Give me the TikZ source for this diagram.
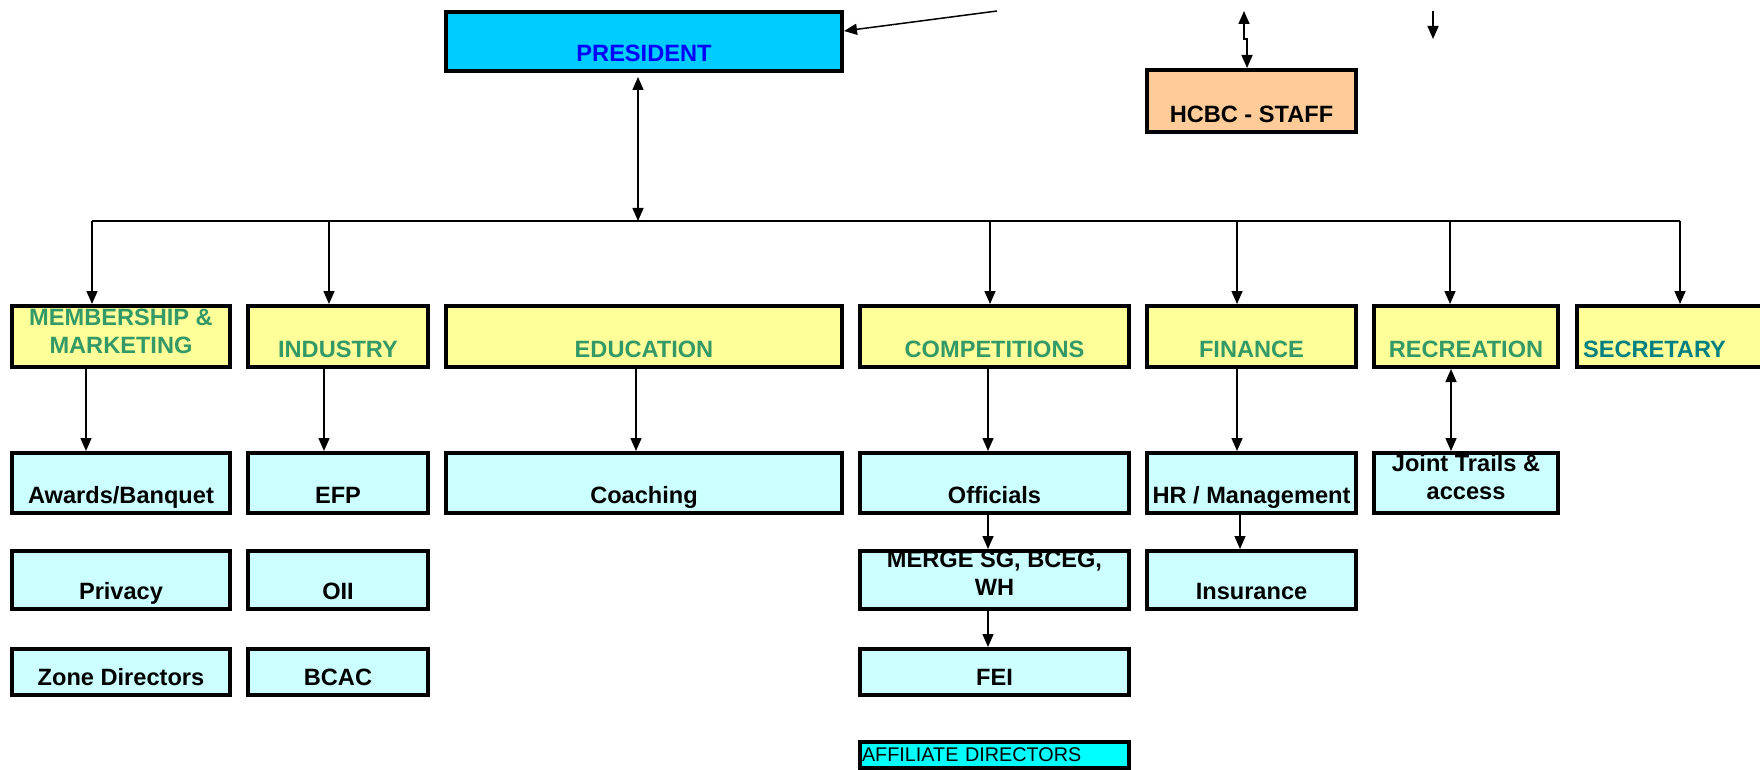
\documentclass[tikz,border=0pt]{standalone}
\usepackage{fontspec}
\setmainfont{Liberation Sans}
\usetikzlibrary{arrows.meta}
\definecolor{presfill}{RGB}{0,204,255}
\definecolor{presblue}{RGB}{0,0,255}
\definecolor{hdyellow}{RGB}{255,255,153}
\definecolor{hdgreen}{RGB}{51,153,102}
\definecolor{secteal}{RGB}{0,128,128}
\definecolor{subcyan}{RGB}{204,255,255}
\definecolor{staffpeach}{RGB}{255,204,153}
\definecolor{affcyan}{RGB}{0,255,255}

\begin{document}
\begin{tikzpicture}[x=0.5pt, y=-0.5pt,
  box/.style={draw, line width=2pt, inner sep=0pt, align=center, text depth=0pt, font=\fontsize{11.8}{14}\selectfont\bfseries},
  head/.style={box, fill=hdyellow, text=hdgreen, minimum height=30.5pt, text height=21pt},
  subA/.style={box, fill=subcyan, minimum height=30pt, text height=20.5pt},
  subB/.style={box, fill=subcyan, minimum height=29pt, text height=19.5pt},
  subC/.style={box, fill=subcyan, minimum height=23pt, text height=13.5pt},
  twoline/.style={text height=#1},
  arr/.style={-{Triangle[length=6.5pt,width=5.5pt]}, line width=0.75pt},
  dbl/.style={{Triangle[length=6.5pt,width=5.5pt]}-{Triangle[length=6.5pt,width=5.5pt]}, line width=0.75pt}
]
\useasboundingbox (0,0) rectangle (1760,770);

% top
\node[box, fill=presfill, text=presblue, minimum width=198pt, minimum height=29.5pt, text height=20pt] (pres) at (644,41.5) {PRESIDENT};
\node[box, fill=staffpeach, minimum width=104.5pt, minimum height=31pt, text height=21.5pt] (staff) at (1251.5,101) {HCBC - STAFF};

% committees
\node[head, twoline=16.5pt, minimum width=109pt] (mem) at (121,336.5) {MEMBERSHIP \&\\MARKETING};
\node[head, minimum width=90pt] (ind) at (338,336.5) {INDUSTRY};
\node[head, minimum width=198pt] (edu) at (644,336.5) {EDUCATION};
\node[head, minimum width=134.5pt] (comp) at (994.5,336.5) {COMPETITIONS};
\node[head, minimum width=104.5pt] (fin) at (1251.5,336.5) {FINANCE};
\node[head, minimum width=92pt] (rec) at (1466,336.5) {RECREATION};
\node[head, text=secteal, minimum width=93.5pt, text width=87.5pt, align=left] (sec) at (1670.5,336.5) {SECRETARY};

% sub groups
\node[subA, minimum width=109pt] (awards) at (121,483) {Awards/Banquet};
\node[subA, minimum width=90pt] (efp) at (338,483) {EFP};
\node[subA, minimum width=198pt] (coach) at (644,483) {Coaching};
\node[subA, minimum width=134.5pt] (off) at (994.5,483) {Officials};
\node[subA, minimum width=104.5pt] (hr) at (1251.5,483) {HR / Management};
\node[subA, twoline=16pt, minimum width=92pt] (trails) at (1466,483) {Joint Trails \&\\access};

\node[subB, minimum width=109pt] (priv) at (121,580) {Privacy};
\node[subB, minimum width=90pt] (oii) at (338,580) {OII};
\node[subB, twoline=15pt, minimum width=134.5pt] (merge) at (994.5,580) {MERGE SG, BCEG,\\WH};
\node[subB, minimum width=104.5pt] (ins) at (1251.5,580) {Insurance};

\node[subC, minimum width=109pt] (zone) at (121,672) {Zone Directors};
\node[subC, minimum width=90pt] (bcac) at (338,672) {BCAC};
\node[subC, minimum width=134.5pt] (fei) at (994.5,672) {FEI};

\node[box, fill=affcyan, font=\fontsize{9.9}{12}\selectfont, minimum width=134.5pt, minimum height=13pt, text width=132.5pt, align=left, text height=6pt] (affil) at (994.5,755) {AFFILIATE DIRECTORS};

% connectors
\coordinate (topin) at (997,11);
\coordinate (staffin) at (1244,11);
\coordinate (sidein) at (1433,11);
\coordinate (sideout) at (1433,39);
\draw[arr] (topin) -- ([yshift=5.25pt]pres.east);
\draw[dbl] (staffin) -- ++(0,28) -| ([xshift=-2.25pt]staff.north);
\draw[arr] (sidein) -- (sideout);

\coordinate (busL) at (92,221);
\coordinate (busR) at (1680,221);
\draw[dbl, shorten <=2pt] ([xshift=-3pt]pres.south) -- ([xshift=-3pt]pres.south |- busL);
\draw[line width=0.75pt] (busL) -- (busR);
\foreach \n/\x in {mem/92, ind/329, comp/990, fin/1237, rec/1450, sec/1680} {
  \coordinate (d\n) at (\x,221);
  \draw[arr] (d\n) -- (d\n |- \n.north);
}

\draw[arr] ([xshift=-17.5pt]mem.south) -- ([xshift=-17.5pt]awards.north);
\draw[arr] ([xshift=-7pt]ind.south) -- ([xshift=-7pt]efp.north);
\draw[arr] ([xshift=-4pt]edu.south) -- ([xshift=-4pt]coach.north);
\draw[arr] ([xshift=-3.25pt]comp.south) -- ([xshift=-3.25pt]off.north);
\draw[arr] ([xshift=-7.25pt]fin.south) -- ([xshift=-7.25pt]hr.north);
\draw[dbl] ([xshift=-7.5pt]rec.south) -- ([xshift=-7.5pt]trails.north);
\draw[arr] ([xshift=-3.25pt]off.south) -- ([xshift=-3.25pt]merge.north);
\draw[arr] ([xshift=-3.25pt]merge.south) -- ([xshift=-3.25pt]fei.north);
\draw[arr] ([xshift=-5.75pt]hr.south) -- ([xshift=-5.75pt]ins.north);
\end{tikzpicture}
\end{document}
